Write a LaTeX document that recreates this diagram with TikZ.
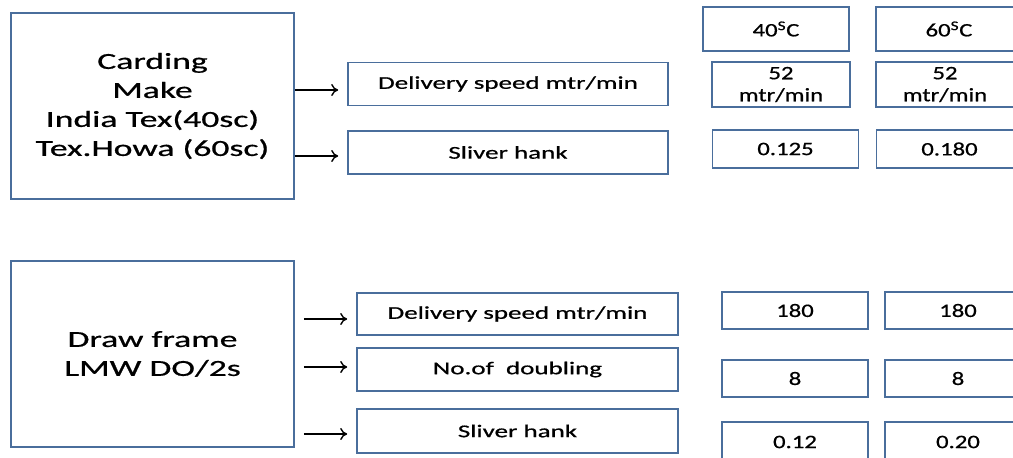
\documentclass[tikz,border=0pt]{standalone}
\usepackage{tikz}
\usepackage{fontspec}
\setmainfont{Carlito}[FakeBold=0.6]
\usetikzlibrary{arrows.meta}
\usetikzlibrary{positioning}
\definecolor{boxblue}{HTML}{4A6E9C}
\newcommand{\wide}[2][1.5]{\scalebox{#1}[1]{#2}}

\begin{document}
\begin{tikzpicture}[x=1pt,y=-1pt,
    machine/.style={draw=boxblue, line width=1.6pt, minimum width=283pt, minimum height=186pt, inner sep=0pt, align=center, font=\fontsize{23}{29}\selectfont},
    param/.style={draw=boxblue, line width=1.6pt, minimum width=320pt, minimum height=43pt, inner sep=0pt, align=center, font=\fontsize{18}{22}\selectfont},
    value/.style={draw=boxblue, line width=1.6pt, minimum width=146pt, minimum height=38pt, inner sep=0pt, align=center, font=\fontsize{19}{22}\selectfont},
    feed/.style={-{To[length=7pt,width=12pt]}, line width=1.4pt}]
            \clip (0,0) rectangle (1013,458);

            % carding
            \node[machine] at (152.5,106) (card) {\wide[1.55]{Carding}\\\wide[1.55]{Make}\\\wide[1.55]{India Tex(40sc)}\\\wide[1.55]{Tex.Howa (60sc)}};
            \node[param] at (508,84) (speedA) {\wide{Delivery speed mtr/min}};
            \node[param] at (508,152.5) (hankA) {\wide{Sliver hank}};
            \node[value, minimum height=44pt] at (776,29) (tempA) {\wide[1.3]{40\textsuperscript{S}C}};
            \node[value, minimum height=44pt] at (949,29) (tempB) {\wide[1.3]{60\textsuperscript{S}C}};
            \node[value, minimum width=138pt, minimum height=45pt] at (781,84.5) (rateA) {\wide[1.3]{52}\\\wide[1.3]{mtr/min}};
            \node[value, minimum width=138pt, minimum height=45pt] at (945,84.5) (rateB) {\wide[1.3]{52}\\\wide[1.3]{mtr/min}};
            \node[value] at (785.5,149) (hankvalA) {\wide[1.3]{0.125}};
            \node[value] at (949.5,149) (hankvalB) {\wide[1.3]{0.180}};
            \draw[feed, shorten >=9pt] ([yshift=-6pt]card.east |- speedA.west) -- ([yshift=-6pt]speedA.west);
            \draw[feed, shorten >=9pt] ([yshift=-3.5pt]card.east |- hankA.west) -- ([yshift=-3.5pt]hankA.west);

            % draw frame
            \node[machine] at (152.5,354) (frame) {\wide[1.55]{Draw frame}\\\wide[1.55]{LMW DO/2s}};
            \node[param, minimum width=321pt, minimum height=42pt] at (517.5,314) (speedB) {\wide{Delivery speed mtr/min}};
            \node[param, minimum width=321pt] at (517.5,369.5) (doubling) {\wide{No.of~ doubling}};
            \node[param, minimum width=321pt, minimum height=44pt] at (517.5,431) (hankB) {\wide{Sliver hank}};
            \node[value, minimum height=37pt] at (795,310.5) (speedvalA) {\wide[1.3]{180}};
            \node[value, minimum height=37pt] at (958,310.5) (speedvalB) {\wide[1.3]{180}};
            \node[value, minimum height=37pt] at (795,378.5) (doubvalA) {\wide[1.3]{8}};
            \node[value, minimum height=37pt] at (958,378.5) (doubvalB) {\wide[1.3]{8}};
            \node[value, minimum height=40pt] at (795,442) (hankvalC) {\wide[1.3]{0.12}};
            \node[value, minimum height=40pt] at (958,442) (hankvalD) {\wide[1.3]{0.20}};
            \draw[feed, shorten <=9pt, shorten >=9pt] ([yshift=-5pt]frame.east |- speedB.west) -- ([yshift=-5pt]speedB.west);
            \draw[feed, shorten <=9pt, shorten >=9pt] ([yshift=2.5pt]frame.east |- doubling.west) -- ([yshift=2.5pt]doubling.west);
            \draw[feed, shorten <=9pt, shorten >=9pt] ([yshift=-3pt]frame.east |- hankB.west) -- ([yshift=-3pt]hankB.west);
        \end{tikzpicture}
\end{document}
